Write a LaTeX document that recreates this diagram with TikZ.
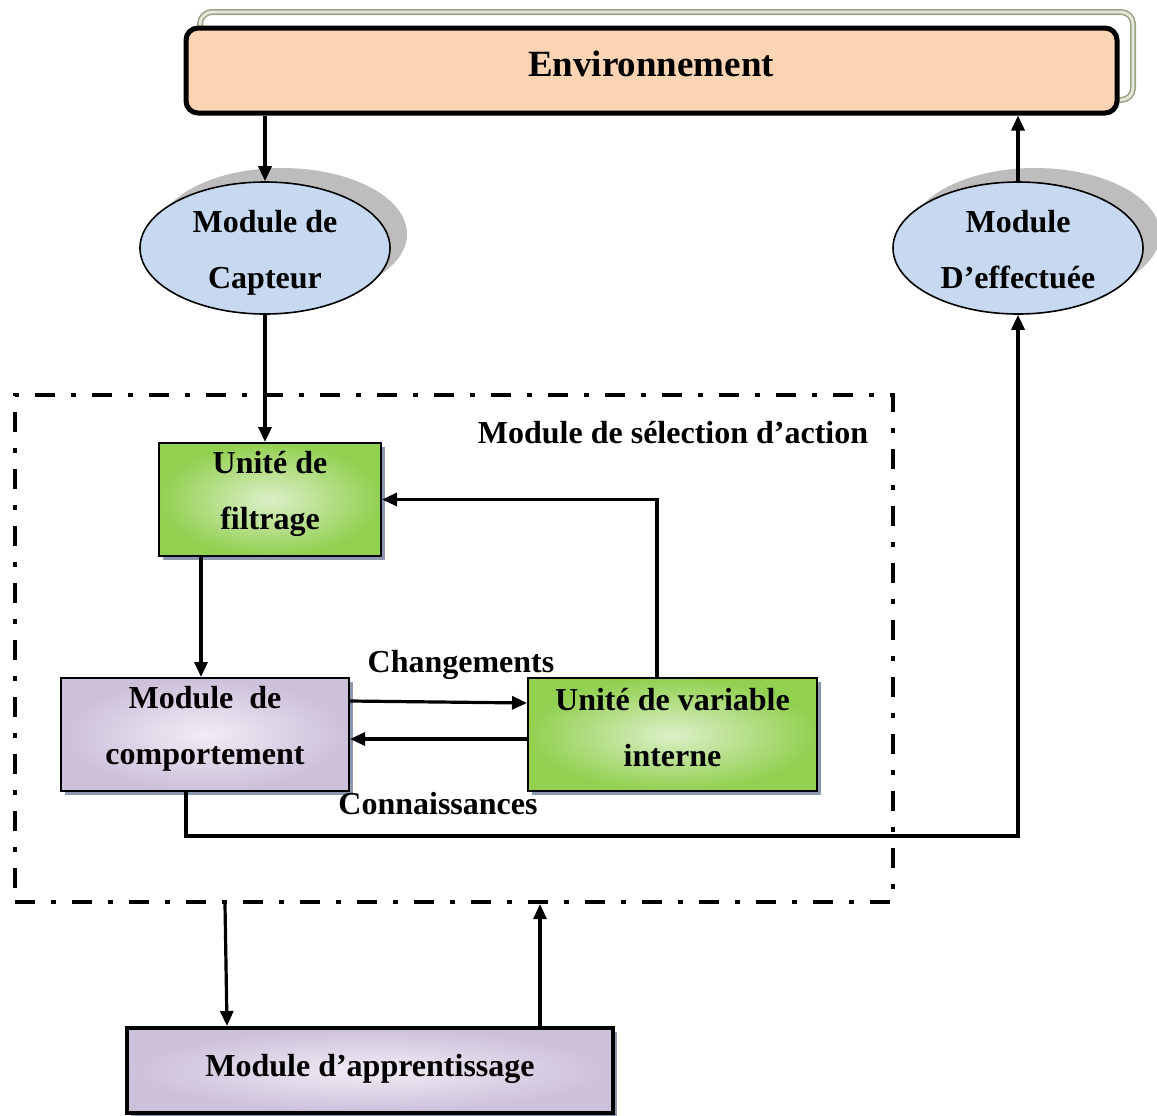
\documentclass[tikz,border=0pt]{standalone}
\usepackage{fontspec}
\setmainfont{Liberation Serif}
\usetikzlibrary{arrows.meta,shapes.geometric,shadows,calc}
\definecolor{peach}{HTML}{FBD4B4}
\definecolor{ellblue}{HTML}{C6D9F1}
\definecolor{greenedge}{HTML}{92D050}
\definecolor{greencenter}{HTML}{DCEFC8}
\definecolor{purpedge}{HTML}{CCC0DA}
\definecolor{purpcenter}{HTML}{F0ECF5}
\definecolor{envline}{HTML}{9CA686}
\definecolor{envdouble}{HTML}{E4E8DA}
\definecolor{boxshadow}{HTML}{8C98AE}
\definecolor{ellshadow}{HTML}{BDBDBD}
\begin{document}
\begin{tikzpicture}[x=0.5pt,y=-0.5pt,
  txt/.style={font=\fontsize{16}{28}\selectfont\bfseries, align=center, inner sep=0pt},
  arr/.style={line width=1.6pt, -{Triangle[length=7.5pt,width=6.5pt]}},
  ell/.style={ellipse, draw=black, line width=0.8pt, fill=ellblue, inner sep=0pt,
    minimum width=125pt, minimum height=66pt,
    drop shadow={shadow xshift=8.5pt, shadow yshift=7pt, fill=ellshadow, opacity=1}},
  greenbox/.style={rectangle, draw=black, line width=1pt, inner sep=0pt,
    inner color=greencenter, outer color=greenedge,
    drop shadow={shadow xshift=2pt, shadow yshift=-2pt, fill=boxshadow, opacity=1}},
  purpbox/.style={rectangle, draw=black, line width=1pt, inner sep=0pt,
    inner color=purpcenter, outer color=purpedge,
    drop shadow={shadow xshift=2pt, shadow yshift=-2pt, fill=boxshadow, opacity=1}},
  selbox/.style={rectangle, draw=black, line width=2pt, inner sep=0pt,
    dash pattern=on 10pt off 8pt on 2.5pt off 8pt},
]
\useasboundingbox (0,0) rectangle (1157,1115);

% Environment
\node[rectangle, rounded corners=6pt, draw=envline, line width=0.8pt, double=envdouble,
      double distance=1.4pt, minimum width=466.5pt, minimum height=44pt, inner sep=0pt]
      (envback) at (666.5,56) {};
\node[rectangle, rounded corners=6pt, draw=black, line width=2.5pt, fill=peach,
      minimum width=465.5pt, minimum height=42.5pt, inner sep=0pt]
      (env) at (651.5,70.5) {};
\node[font=\fontsize{18.5}{22}\selectfont\bfseries, inner sep=0pt] (envtxt) at (651,64) {Environnement};

% Ellipses
\node[ell] (cap) at (265,248) {};
\node[txt] (captxt) at (265,253) {Module de\\Capteur};
\node[ell] (eff) at (1018,248) {};
\node[txt] (efftxt) at (1018,250) {Module\\D’effectuée};

% Selection module
\node[selbox, minimum width=439pt, minimum height=253.5pt] (sel) at (454,648.5) {};
\node[txt] (seltxt) at (673,433) {Module de sélection d’action};

% Boxes
\node[greenbox, minimum width=111pt, minimum height=56.5pt] (filt) at (270,499.5) {};
\node[txt] (filttxt) at (270,494) {Unité de\\filtrage};
\node[purpbox, minimum width=144pt, minimum height=56.5pt] (comp) at (205,734.5) {};
\node[txt] (comptxt) at (205,729) {Module\ \ de\\comportement};
\node[greenbox, minimum width=144.5pt, minimum height=56.5pt] (var) at (672.5,734.5) {};
\node[txt] (vartxt) at (672.5,727.5) {Unité de variable\\interne};

\node[purpbox, line width=2pt, minimum width=243pt, minimum height=42.5pt] (app) at (370,1070.5) {};
\node[txt] (apptxt) at (370,1068.5) {Module d’apprentissage};

% labels
\node[txt] (chg) at (461,665) {Changements};
\node[txt] (con) at (438,804) {Connaissances};

% Connectors
\draw[arr] (cap.north |- env.south) -- (cap.north);
\draw[arr] (cap.south) -- (cap.south |- filt.north);
\draw[arr] (eff.north) -- (eff.north |- env.south);
\draw[arr] ([xshift=-34.5pt]filt.south) -- ([xshift=-34.5pt]filt.south |- comp.north);
\draw[arr] ([xshift=-7.75pt]var.north) |- (filt.east);
\draw[arr] ([yshift=16.75pt]comp.east) -- ([yshift=15.75pt]var.west);
\draw[arr] ([yshift=-2.25pt]var.west) -- ([yshift=-2.25pt]comp.east);
\draw[arr] ([xshift=-9.5pt]comp.south) -- ++(0,44) -| (eff.south);
\draw[arr] ([xshift=-114.5pt]sel.south) -- ([xshift=-71.5pt]app.north);
\draw[arr] ([xshift=85pt]app.north) -- ([xshift=43pt]sel.south);
\end{tikzpicture}
\end{document}
